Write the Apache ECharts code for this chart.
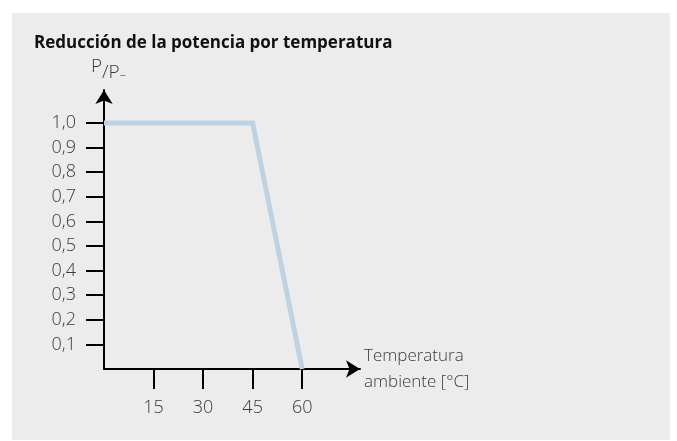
<!DOCTYPE html>
<html><head><meta charset="utf-8">
<script src="https://cdn.jsdelivr.net/npm/echarts@6/dist/echarts.min.js"></script>
<style>html,body{margin:0;padding:0;background:#fff}#c{width:677px;height:441px}</style>
</head><body><div id="c"></div>
<script>
const titleText = 'Reducción de la potencia por temperatura';
const temperature = [0, 45, 60];
const powerRatio = [1.0, 1.0, 0.0];
const xTickValues = [15, 30, 45, 60];
const yTickValues = [0.1, 0.2, 0.3, 0.4, 0.5, 0.6, 0.7, 0.8, 0.9, 1.0];
const xAxisName = 'Temperatura\nambiente [°C]';

const chart = echarts.init(document.getElementById('c'), null, {renderer: 'canvas'});
const font = '"Open Sans", "Noto Sans", sans-serif';
const txt = '#3a3a3a';
chart.setOption({
  animation: false,
  backgroundColor: '#ffffff',
  graphic: [{type: 'rect', z: -10, shape: {x: 12, y: 13, width: 658, height: 427}, style: {fill: '#ececec'}}],
  title: {text: titleText, left: 29, top: 30, textStyle: {fontFamily: font, fontWeight: 'bold', fontSize: 17, color: '#111'}},
  grid: {left: 104, top: 90, right: 317, bottom: 72, containLabel: false},
  xAxis: {
    type: 'value', min: 0, max: 77.5,
    axisLine: {show: true, lineStyle: {color: '#000', width: 2}, symbol: ['none', 'arrow'], symbolSize: [13, 14]},
    axisTick: {show: true, customValues: xTickValues, length: 20, lineStyle: {color: '#000', width: 2}},
    axisLabel: {customValues: xTickValues, margin: 30, fontFamily: font, fontWeight: 300, fontSize: 18, color: txt},
    splitLine: {show: false},
    name: xAxisName, nameLocation: 'end', nameGap: 4,
    nameTextStyle: {fontFamily: font, fontWeight: 300, fontSize: 17, color: txt, align: 'left', verticalAlign: 'middle', lineHeight: 26}
  },
  yAxis: {
    type: 'value', min: 0, max: 1.134,
    axisLine: {show: true, lineStyle: {color: '#000', width: 2}, symbol: ['none', 'arrow'], symbolSize: [13, 14]},
    axisTick: {show: true, customValues: yTickValues, length: 18, lineStyle: {color: '#000', width: 2}},
    axisLabel: {customValues: yTickValues, margin: 28, fontFamily: font, fontWeight: 300, fontSize: 18, color: txt,
      formatter: v => v.toFixed(1).replace('.', ',')},
    splitLine: {show: false},
    name: '{a|P}{b|/P}{c|–}', nameLocation: 'end', nameGap: 8,
    nameTextStyle: {fontFamily: font, color: txt, align: 'left', padding: [0, 0, 0, -13],
      rich: {a: {fontFamily: font, fontWeight: 300, fontSize: 19, color: txt, verticalAlign: 'top', padding: [0,0,6,0]},
             b: {fontFamily: font, fontWeight: 300, fontSize: 19, color: txt, verticalAlign: 'bottom', padding: [6,0,0,0]},
             c: {fontFamily: font, fontWeight: 300, fontSize: 12, color: txt, verticalAlign: 'bottom', padding: [6,0,0,0]}}}
  },
  series: [{
    type: 'line', data: temperature.map((t, i) => [t, powerRatio[i]]),
    showSymbol: false, symbol: 'none', clip: false,
    lineStyle: {color: '#bdd3e3', width: 5, join: 'miter'}
  }]
});
</script></body></html>
